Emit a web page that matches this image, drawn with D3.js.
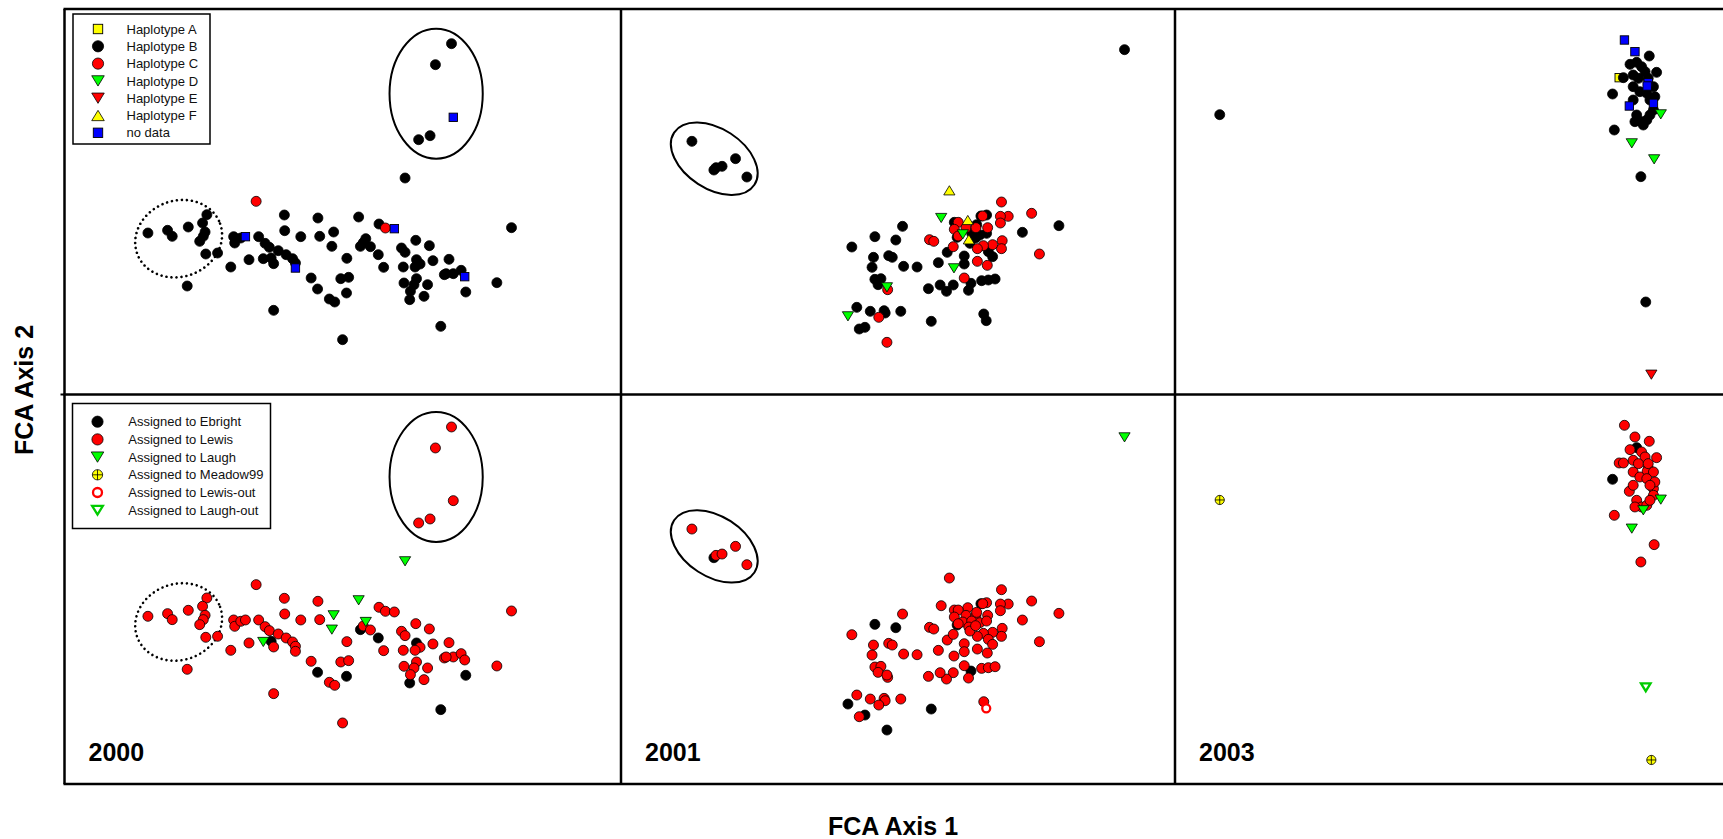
<!DOCTYPE html>
<html>
<head>
<meta charset="utf-8">
<script src="https://cdn.jsdelivr.net/npm/d3@7"></script>
<style>
  body { margin: 0; background: #fff; }
  svg { display: block; }
  text { font-family: "Liberation Sans", Arial, sans-serif; }
</style>
</head>
<body>
<svg id="chart"></svg>
<script>
// FCA scores, one row per fish: [axis1, axis2, haplotype, assignment]
// axis units are arbitrary (axis 2 grows downwards)
const pts2000 = [
  [1085,107,"B","Le"],[1040,170,"B","Le"],[1090,328,"N","Le"],[993,395,"B","Le"],[1025,383,"B","Le"],
  [955,510,"B","La"],[538,580,"C","Le"],[1253,659,"B","Le"],[1212,824,"B","Le"],
  [235,675,"B","Le"],[290,667,"B","Le"],[303,685,"B","Le"],[348,657,"B","Le"],[400,620,"B","Le"],
  [388,645,"B","Le"],[395,672,"B","Le"],[390,685,"B","Le"],[380,700,"B","Le"],[397,738,"B","Le"],
  [430,735,"B","Le"],[345,834,"B","Le"],[467,777,"B","Le"],[475,686,"B","Le"],[478,705,"B","Le"],
  [495,690,"B","Le"],[508,686,"N","Le"],[518,755,"B","Le"],[545,686,"B","Le"],[563,706,"B","Le"],
  [575,718,"B","Le"],[558,752,"B","La"],[580,750,"B","Eb"],[587,767,"B","Le"],[600,728,"B","Le"],
  [617,621,"B","Le"],[618,668,"B","Le"],[622,740,"B","Le"],[640,752,"B","Le"],[648,765,"B","Le"],
  [648,780,"N","Le"],[663,686,"B","Le"],[587,907,"B","Le"],[692,810,"B","Le"],[710,843,"B","Eb"],
  [711,630,"B","Le"],[716,685,"B","Le"],[755,672,"B","La"],[750,715,"B","La"],[743,873,"B","Le"],
  [758,882,"B","Le"],[775,812,"B","Le"],[797,808,"B","Le"],[792,751,"B","Le"],[791,855,"B","Eb"],
  [780,995,"B","Le"],[825,627,"B","La"],[845,692,"B","La"],[830,715,"B","Eb"],[838,704,"B","Le"],
  [858,716,"B","Le"],[880,740,"B","Eb"],[895,778,"B","Le"],[882,648,"B","Le"],[900,660,"C","Le"],
  [925,662,"N","Le"],[945,720,"B","Le"],[955,733,"B","Le"],[985,697,"B","Le"],[950,777,"B","Le"],
  [987,755,"B","Eb"],[997,768,"B","Le"],[983,777,"B","Le"],[952,825,"B","Le"],[987,812,"B","Le"],
  [980,830,"B","Le"],[970,850,"B","Le"],[968,875,"B","Eb"],[1008,865,"B","Le"],[1018,830,"B","Le"],
  [1023,713,"B","Le"],[1033,758,"B","Le"],[1078,754,"B","Le"],[1065,800,"B","Le"],[1090,797,"B","Le"],
  [1112,787,"B","Le"],[1122,806,"N","Le"],[1125,852,"B","Eb"],[1055,955,"B","Eb"],[1070,797,"B","Le"]
];

const pts2001 = [
  [200,400,"B","Le"],[262,486,"B","Eb"],[268,479,"B","Le"],[285,475,"B","Le"],[323,452,"B","Le"],
  [355,507,"B","Le"],[1420,125,"B","La"],[926,547,"F","Le"],[903,630,"D","Le"],[1073,582,"C","Le"],
  [1158,616,"C","Le"],[1092,625,"C","Le"],[1070,625,"C","Le"],[1070,645,"C","Le"],[1235,653,"B","Le"],
  [1132,673,"B","Le"],[1180,738,"C","Le"],[1075,698,"C","Le"],[1073,722,"C","Le"],[1048,710,"C","Le"],
  [1022,713,"C","Le"],[1005,722,"C","Le"],[1036,731,"B","Le"],[1048,746,"B","Le"],[1005,760,"C","Le"],
  [1033,772,"C","Le"],[1017,818,"B","Le"],[1036,816,"B","Le"],[1055,813,"B","Le"],[1023,918,"B","Le"],
  [1030,938,"B","LeO"],[968,810,"C","Le"],[987,826,"B","Eb"],[980,847,"B","Le"],[937,831,"B","Le"],
  [918,850,"B","Le"],[900,831,"B","Le"],[867,842,"B","Le"],[875,940,"B","Eb"],[895,764,"B","Le"],
  [939,781,"D","Le"],[968,744,"B","Le"],[968,768,"B","Le"],[920,733,"B","Le"],[937,716,"C","Le"],
  [870,695,"C","Le"],[882,700,"C","Le"],[794,655,"B","Le"],[716,686,"B","Eb"],[775,696,"B","Eb"],
  [651,717,"B","Le"],[712,748,"B","Le"],[755,743,"B","Le"],[765,748,"B","Le"],[708,778,"B","Le"],
  [797,775,"B","Le"],[835,777,"B","Le"],[716,814,"B","Le"],[733,812,"B","Le"],[725,830,"B","Le"],
  [752,845,"C","Le"],[750,838,"D","Le"],[665,898,"B","Le"],[703,910,"B","Le"],[742,908,"B","Le"],
  [745,915,"B","Le"],[727,928,"C","Le"],[789,910,"B","Le"],[640,925,"D","Eb"],[672,963,"B","Le"],
  [688,958,"B","Eb"],[750,1003,"C","Eb"],
  [978,636,"F","Le"],[940,643,"B","Le"],[951,643,"C","Le"],[940,664,"C","Le"],[973,659,"C","Le"],
  [1015,624,"B","Eb"],[1031,621,"B","Le"],[1020,624,"C","Le"],[1001,659,"C","Le"],[1034,659,"C","Le"],
  [964,679,"D","Le"],[989,676,"B","Le"],[1012,681,"B","Le"],[1031,676,"B","Le"],[948,688,"B","Eb"],
  [951,684,"C","Le"],[981,694,"F","Le"],[984,706,"B","Le"],[1003,650,"B","Le"],[1000,690,"B","Le"]
];

const pts2003 = [
  [128,320,"B","Me"],[1363,1100,"E","Me"],[1347,882,"B","LaO"],[1333,506,"B","Le"],[1371,454,"D","Le"],
  [1307,406,"D","La"],[1257,366,"B","Le"],[1390,319,"D","La"],[1252,258,"B","Eb"],[1286,96,"N","Le"],
  [1316,131,"N","Le"],[1357,144,"B","Le"],[1271,209,"A","Le"],[1283,209,"B","Le"],[1354,224,"N","Le"],
  [1351,234,"N","Le"],[1300,294,"N","Le"],[1369,286,"N","Le"],
  [1302,169,"B","Le"],[1321,163,"B","Eb"],[1335,176,"B","Le"],[1345,191,"B","Le"],[1378,193,"B","Le"],
  [1311,201,"B","Le"],[1326,211,"B","Le"],[1354,211,"B","Le"],[1369,236,"B","Le"],[1311,236,"B","Le"],
  [1330,251,"B","Le"],[1350,256,"B","Le"],[1373,266,"B","Le"],[1359,276,"B","Le"],[1311,276,"B","Le"],
  [1369,306,"B","Le"],[1321,321,"B","Le"],[1335,341,"B","Le"],[1350,336,"B","Le"],[1359,321,"B","Le"],
  [1316,341,"B","Le"],[1340,351,"B","La"]
];

const years = ["2000", "2001", "2003"];
const yearPoints = [pts2000, pts2001, pts2003];

// ellipses drawn round groups, in the same FCA units
const ell2000 = [{cx: 1042, cy: 257, rx: 130.5, ry: 195, angle: 0, dotted: false},
                 {cx: 321, cy: 692, rx: 123.5, ry: 114, angle: -20, dotted: true}];
const ell2001 = [{cx: 263, cy: 452, rx: 135, ry: 90, angle: 33, dotted: false}];
const ell2003 = [];
const yearEllipses = [ell2000, ell2001, ell2003];

const hapKeys = ["A", "B", "C", "D", "E", "F", "N"];
const hapLabels = ["Haplotype A", "Haplotype B", "Haplotype C", "Haplotype D", "Haplotype E", "Haplotype F", "no data"];
const asgKeys = ["Eb", "Le", "La", "Me", "LeO", "LaO"];
const asgLabels = ["Assigned to Ebright", "Assigned to Lewis", "Assigned to Laugh", "Assigned to Meadow99",
                   "Assigned to Lewis-out", "Assigned to Laugh-out"];

const xDomain = [0, 1568];
const yDomain = [0, 1170];

// ---- layout ----
const W = 1723, H = 839;
const colEdges = [64.5, 621, 1175, 1745];
const rowEdges = [9, 394.5, 784];
const colRange = [[64, 624], [621, 1177], [1175, 1723]];
const topRange = [8, 398];
const bottomShift = [383.3, 387.7, 385.3];

const svg = d3.select("#chart").attr("width", W).attr("height", H);

const style = {
  A:  {shape: "square", fill: "#ffff00"},
  B:  {shape: "circle", fill: "#000000"},
  C:  {shape: "circle", fill: "#ff0000"},
  D:  {shape: "down", fill: "#00ff00"},
  E:  {shape: "down", fill: "#ff0000"},
  F:  {shape: "up", fill: "#ffff00"},
  N:  {shape: "square", fill: "#0000ff"},
  Eb: {shape: "circle", fill: "#000000"},
  Le: {shape: "circle", fill: "#ff0000"},
  La: {shape: "down", fill: "#00ff00"},
  Me: {shape: "cross", fill: "#ffff00"},
  LeO: {shape: "ocircle", stroke: "#ff0000"},
  LaO: {shape: "odown", stroke: "#00cc00"}
};

function symbol(g, key, k) {
  const s = style[key];
  const r = 5 * k;
  if (s.shape === "circle") {
    g.append("circle").attr("r", r).attr("fill", s.fill).attr("stroke", "#000").attr("stroke-width", 0.8);
  } else if (s.shape === "square") {
    const h = 4.2 * k;
    g.append("rect").attr("x", -h).attr("y", -h).attr("width", 2 * h).attr("height", 2 * h)
      .attr("fill", s.fill).attr("stroke", "#000").attr("stroke-width", 0.9);
  } else if (s.shape === "down" || s.shape === "up") {
    const w = 5.6 * k, h = 4.6 * k, d = s.shape === "down" ? 1 : -1;
    g.append("path").attr("d", `M${-w},${-d * h}L${w},${-d * h}L0,${d * h}Z`)
      .attr("fill", s.fill).attr("stroke", "#000").attr("stroke-width", 0.8).attr("stroke-linejoin", "round");
  } else if (s.shape === "cross") {
    const rr = 4.6 * k;
    g.append("circle").attr("r", rr).attr("fill", s.fill).attr("stroke", "#000").attr("stroke-width", 0.8);
    g.append("path").attr("d", `M${-rr},0H${rr}M0,${-rr}V${rr}`).attr("stroke", "#000").attr("stroke-width", 0.8);
  } else if (s.shape === "ocircle") {
    g.append("circle").attr("r", 4 * k).attr("fill", "#fff").attr("stroke", s.stroke).attr("stroke-width", 2.3);
  } else if (s.shape === "odown") {
    const w = 4.8 * k, h = 3.9 * k;
    g.append("path").attr("d", `M${-w},${-h}L${w},${-h}L0,${h}Z`)
      .attr("fill", "#fff").attr("stroke", s.stroke).attr("stroke-width", 2.3).attr("stroke-linejoin", "miter");
  }
}

function panel(col, row) {
  const x = d3.scaleLinear().domain(xDomain).range(colRange[col]);
  const shift = row === 0 ? 0 : bottomShift[col];
  const y = d3.scaleLinear().domain(yDomain).range([topRange[0] + shift, topRange[1] + shift]);
  const keys = row === 0 ? hapKeys : asgKeys;
  const idx = row === 0 ? 2 : 3;

  const g = svg.append("g").attr("clip-path", `url(#clip${col}${row})`);
  svg.append("clipPath").attr("id", `clip${col}${row}`).append("rect")
    .attr("x", colEdges[col]).attr("y", rowEdges[row])
    .attr("width", colEdges[col + 1] - colEdges[col]).attr("height", rowEdges[row + 1] - rowEdges[row]);

  const kx = (x(1) - x(0)), ky = (y(1) - y(0));
  yearEllipses[col].forEach(e => {
    const cx = x(e.cx), cy = y(e.cy);
    g.append("ellipse")
      .attr("cx", cx).attr("cy", cy)
      .attr("rx", e.rx * kx).attr("ry", e.ry * ky)
      .attr("transform", `rotate(${e.angle},${cx},${cy})`)
      .attr("fill", "none").attr("stroke", "#000")
      .attr("stroke-width", e.dotted ? 2.6 : 2)
      .attr("stroke-dasharray", e.dotted ? "0 5" : null)
      .attr("stroke-linecap", e.dotted ? "round" : null);
  });

  const data = yearPoints[col].slice()
    .sort((a, b) => keys.indexOf(a[idx]) - keys.indexOf(b[idx]));
  g.selectAll("g.pt").data(data).join("g").attr("class", "pt")
    .attr("transform", d => `translate(${x(d[0])},${y(d[1])})`)
    .each(function (d) { symbol(d3.select(this), d[idx], 1); });

  if (row === 1) {
    g.append("text").attr("x", colEdges[col] + 24).attr("y", 761)
      .attr("font-size", 25).attr("font-weight", "bold").text(years[col]);
  }
}

for (let c = 0; c < 3; c++) for (let r = 0; r < 2; r++) panel(c, r);

// legends
function legend(box, labels, keys, rowY, step, symX, textX) {
  const g = svg.append("g");
  g.append("rect").attr("x", box[0]).attr("y", box[1]).attr("width", box[2]).attr("height", box[3])
    .attr("fill", "#fff").attr("stroke", "#000").attr("stroke-width", 1.5);
  keys.forEach((k, i) => {
    const yy = rowY + i * step;
    symbol(g.append("g").attr("transform", `translate(${symX},${yy})`), k, 1.12);
    g.append("text").attr("x", textX).attr("y", yy).attr("dy", "0.36em")
      .attr("font-size", 13).attr("fill", "#111").text(labels[i]);
  });
}
legend([73, 14, 137, 130], hapLabels, hapKeys, 29, 17.3, 98, 126.5);
legend([72.5, 403.5, 198, 125], asgLabels, asgKeys, 421.7, 17.7, 97.5, 128.3);

// frame
const frame = svg.append("g").attr("stroke", "#000").attr("stroke-width", 2.5);
rowEdges.forEach(yy => frame.append("line").attr("x1", colEdges[0] - 1).attr("x2", W).attr("y1", yy).attr("y2", yy));
colEdges.slice(0, 3).forEach(xx => frame.append("line").attr("x1", xx).attr("x2", xx).attr("y1", rowEdges[0]).attr("y2", rowEdges[2]));
// small tick left of the middle line
frame.append("line").attr("x1", colEdges[0] - 4).attr("x2", colEdges[0]).attr("y1", rowEdges[1]).attr("y2", rowEdges[1])
  .attr("stroke-width", 2);

// axis titles
svg.append("text").attr("x", 893).attr("y", 835).attr("text-anchor", "middle")
  .attr("font-size", 25).attr("font-weight", "bold").text("FCA Axis 1");
svg.append("text").attr("transform", "translate(33,390) rotate(-90)").attr("text-anchor", "middle")
  .attr("font-size", 25).attr("font-weight", "bold").text("FCA Axis 2");
</script>
</body>
</html>
